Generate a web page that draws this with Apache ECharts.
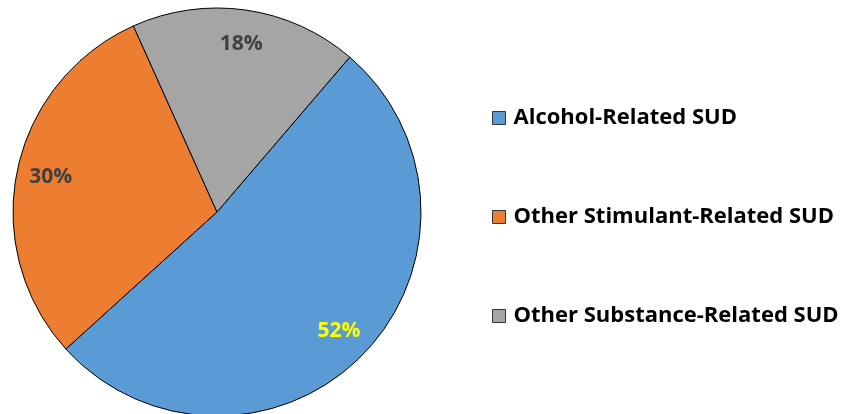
<!DOCTYPE html>
<html><head><meta charset="utf-8">
<script src="https://cdn.jsdelivr.net/npm/echarts@6/dist/echarts.min.js"></script>
<style>html,body{margin:0;padding:0;background:#fff}#c{width:843px;height:414px}</style>
</head><body><div id="c"></div>
<script>
const categories = ['Alcohol-Related SUD', 'Other Stimulant-Related SUD', 'Other Substance-Related SUD'];
const values = [52, 30, 18];
const colors = ['#5B9BD5', '#ED7D31', '#A5A5A5'];
const labelColors = ['#FFFF00', '#404040', '#404040'];

const font = '"Open Sans", sans-serif';
const data = categories.map((n, i) => ({
  name: n, value: values[i],
  itemStyle: { color: colors[i] },
  label: { color: labelColors[i] }
}));
const labelData = categories.map((n, i) => ({
  name: n, value: values[i],
  label: { color: labelColors[i] }
}));

const chart = echarts.init(document.getElementById('c'));
chart.setOption({
  animation: false,
  legend: {
    orient: 'vertical', left: 492, top: 107, padding: 0,
    itemWidth: 13, itemHeight: 13, itemGap: 77,
    icon: 'rect',
    data: categories,
    textStyle: { fontFamily: font, fontWeight: 'bold', fontSize: 22, color: '#000', lineHeight: 22, padding: [0,0,0,3] },
    itemStyle: { borderColor: '#333', borderWidth: 1 }
  },
  series: [{
    type: 'pie', center: [217, 212], radius: [0, 204],
    startAngle: 49.4, clockwise: true,
    itemStyle: { borderColor: '#000', borderWidth: 1 },
    label: { show: false }, labelLine: { show: false },
    emphasis: { disabled: true },
    data: data
  }, {
    type: 'pie', center: [217, 212], radius: [130, 204],
    startAngle: 49.4, clockwise: true, silent: true,
    itemStyle: { color: 'rgba(0,0,0,0)', borderWidth: 0 },
    label: { show: true, position: 'inside', formatter: '{d}%', fontFamily: font, fontWeight: 'bold', fontSize: 21 },
    labelLine: { show: false },
    data: labelData
  }]
});
</script></body></html>
